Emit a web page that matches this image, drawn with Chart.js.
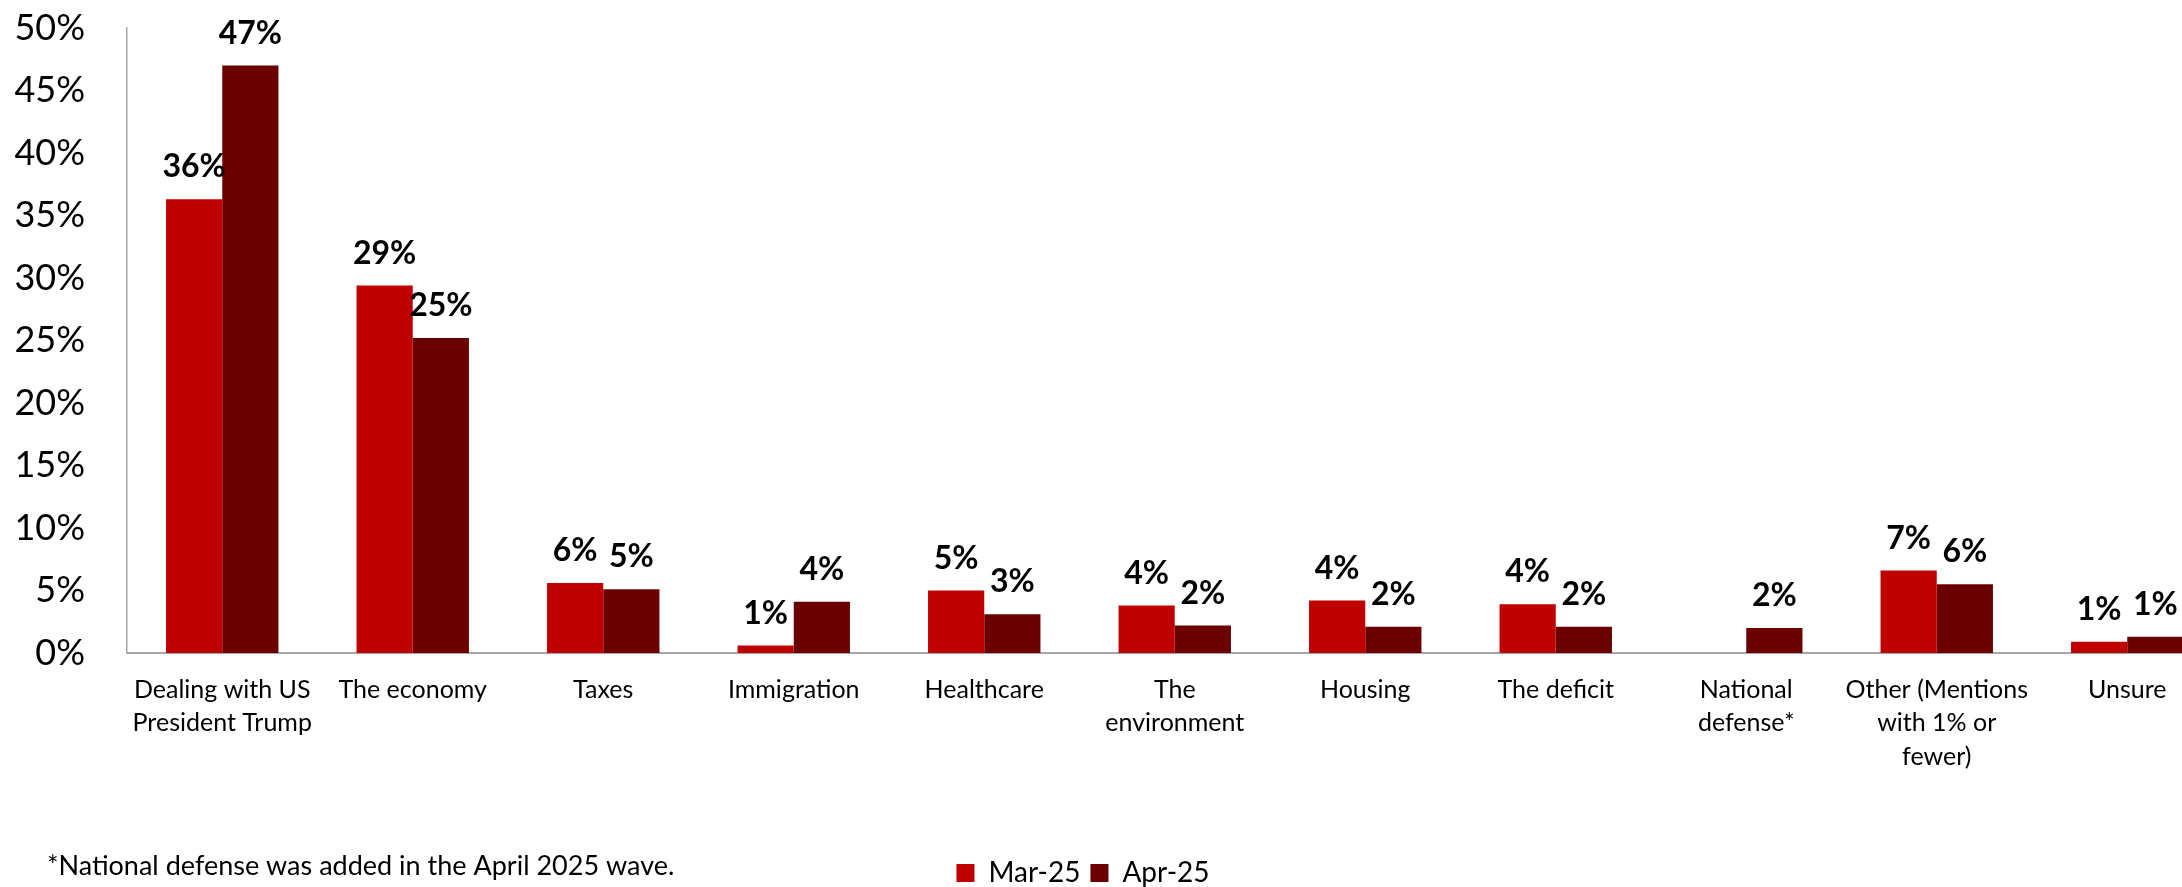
<!DOCTYPE html>
<html>
<head>
<meta charset="utf-8">
<script src="https://cdn.jsdelivr.net/npm/chart.js@4.4.1/dist/chart.umd.min.js"></script>
<style>
  html, body { margin: 0; padding: 0; background: #fff; overflow: hidden; }
  #wrap { width: 2240px; height: 887px; position: relative; }
</style>
</head>
<body>
<div id="wrap"><canvas id="chart"></canvas></div>
<script>
const categories = [
  ["Dealing with US", "President Trump"],
  "The economy",
  "Taxes",
  "Immigration",
  "Healthcare",
  ["The", "environment"],
  "Housing",
  "The deficit",
  ["National", "defense*"],
  ["Other (Mentions", "with 1% or", "fewer)"],
  "Unsure"
];
const seriesNames = ["Mar-25", "Apr-25"];
const mar25 = [36.3, 29.4, 5.6, 0.6, 5.0, 3.8, 4.2, 3.9, null, 6.6, 0.9];
const apr25 = [47.0, 25.2, 5.1, 4.1, 3.1, 2.2, 2.1, 2.1, 2.0, 5.5, 1.3];
const yTicks = [0, 5, 10, 15, 20, 25, 30, 35, 40, 45, 50];
const footnote = "*National defense was added in the April 2025 wave.";

const FONT = "Lato, 'Open Sans', sans-serif";
const ZERO_Y = 653;
const H = 887;

// bold value labels above each bar
const valueLabels = {
  id: "valueLabels",
  afterDatasetsDraw(chart) {
    const ctx = chart.ctx;
    ctx.save();
    ctx.font = "bold 32px " + FONT;
    ctx.fillStyle = "#000";
    ctx.textAlign = "center";
    ctx.textBaseline = "alphabetic";
    chart.data.datasets.forEach((ds, i) => {
      chart.getDatasetMeta(i).data.forEach((bar, j) => {
        const v = ds.data[j];
        if (v === null || v === undefined) return;
        ctx.fillText(Math.round(v) + "%", bar.x, bar.y - 22);
      });
    });
    ctx.restore();
  }
};

// footnote bottom-left, legend moved onto the same row
const footer = {
  id: "footer",
  afterLayout(chart) {
    const lg = chart.legend;
    const h = lg.bottom - lg.top;
    lg.left = 0;
    lg.right = 2166;
    lg.top = 849;
    lg.bottom = lg.top + h;
  },
  afterDraw(chart) {
    const ctx = chart.ctx;
    ctx.save();
    ctx.font = "27px " + FONT;
    ctx.fillStyle = "#000";
    ctx.textAlign = "left";
    ctx.textBaseline = "middle";
    ctx.fillText(footnote, 47, 866);
    ctx.restore();
  }
};

new Chart(document.getElementById("chart"), {
  type: "bar",
  data: {
    labels: categories,
    datasets: [
      { label: seriesNames[0], data: mar25, backgroundColor: "#C00000" },
      { label: seriesNames[1], data: apr25, backgroundColor: "#6B0000" }
    ]
  },
  options: {
    responsive: true,
    maintainAspectRatio: false,
    animation: false,
    devicePixelRatio: 1,
    layout: { padding: { top: 28, right: 17.5, left: 0, bottom: 0 } },
    datasets: { bar: { categoryPercentage: 0.59, barPercentage: 1 } },
    plugins: {
      legend: {
        position: "bottom",
        labels: {
          font: { family: FONT, size: 28 },
          color: "#000",
          boxWidth: 18,
          boxHeight: 18,
          padding: 10
        }
      },
      tooltip: { enabled: false }
    },
    scales: {
      y: {
        min: 0,
        max: 50,
        afterBuildTicks: s => { s.ticks = yTicks.map(v => ({ value: v })); },
        afterFit: s => { s.width = 127; s.paddingTop = 0; s.paddingBottom = 0; },
        grid: { display: false, drawTicks: false },
        border: { display: true, color: "#a6a6a6", width: 1.5 },
        ticks: {
          padding: 42,
          color: "#000",
          font: { family: FONT, size: 36 },
          callback: v => v + "%"
        }
      },
      x: {
        afterFit: s => { s.height = H - ZERO_Y - s.chart.legend.height; },
        grid: { display: false, drawTicks: false },
        border: { display: true, color: "#a6a6a6", width: 2 },
        ticks: {
          padding: 20,
          color: "#000",
          maxRotation: 0,
          autoSkip: false,
          font: { family: FONT, size: 25, lineHeight: 1.34 }
        }
      }
    }
  },
  plugins: [valueLabels, footer]
});
</script>
</body>
</html>
